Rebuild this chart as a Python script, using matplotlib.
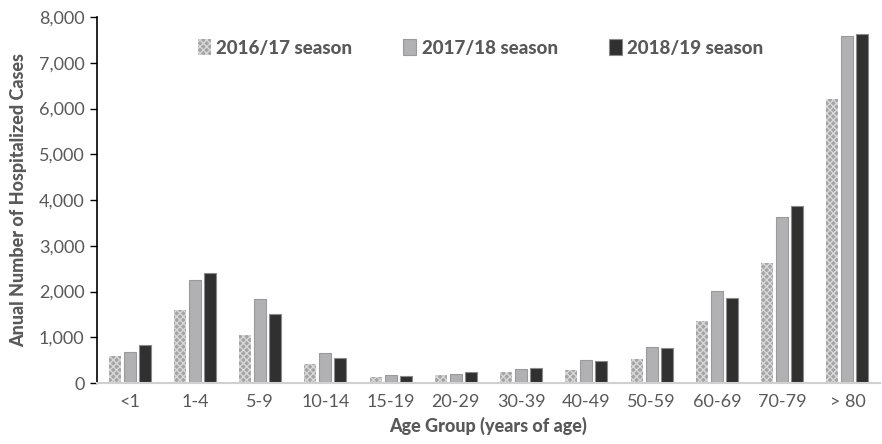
import matplotlib
matplotlib.use("Agg")
import matplotlib.pyplot as plt
import numpy as np

plt.rcParams['font.family'] = ['Lato', 'DejaVu Sans']
plt.rcParams['hatch.linewidth'] = 1.0

categories = ["<1", "1-4", "5-9", "10-14", "15-19", "20-29", "30-39", "40-49", "50-59", "60-69", "70-79", "> 80"]
s2016 = [590, 1600, 1045, 425, 140, 168, 250, 290, 528, 1350, 2632, 6200]
s2017 = [688, 2255, 1832, 645, 185, 198, 308, 505, 790, 2012, 3625, 7580]
s2018 = [825, 2415, 1508, 548, 148, 242, 322, 470, 755, 1860, 3860, 7620]
labels = ["2016/17 season", "2017/18 season", "2018/19 season"]
yticks = [0, 1000, 2000, 3000, 4000, 5000, 6000, 7000, 8000]

fig = plt.figure(figsize=(8.82, 4.44), dpi=100)
ax = fig.add_axes([97/882, 1-383/444, (880-97)/882, (383-17)/444])

x = np.arange(len(categories))
w = 0.185
step = 0.23
ax.bar(x - step, s2016, w, facecolor='#a4a4a4', edgecolor='#d8d8d8', hatch='xxxxx', linewidth=0.0, label=labels[0])
ax.bar(x, s2017, w, facecolor='#b1b1b4', edgecolor='#9a9a9a', linewidth=0.8, label=labels[1])
ax.bar(x + step, s2018, w, facecolor='#303030', edgecolor='#8a8a8a', linewidth=0.8, label=labels[2])

ax.set_xlim(-0.5, len(categories) - 0.5)
ax.set_ylim(0, 8000)
ax.set_yticks(yticks)
ax.set_yticklabels([f"{v:,}" for v in yticks])
ax.set_xticks(x)
ax.set_xticklabels(categories)
ax.tick_params(axis='y', colors='#595959', labelsize=13, length=5, width=1, direction='out', pad=4)
ax.tick_params(axis='y', color='black')
ax.tick_params(axis='x', colors='#595959', labelsize=13, length=0, pad=8)

for s in ['top', 'right']:
    ax.spines[s].set_visible(False)
ax.spines['left'].set_color('black')
ax.spines['left'].set_linewidth(1.2)
ax.spines['bottom'].set_color('#d0d0d0')
ax.spines['bottom'].set_linewidth(1.5)

ax.set_ylabel("Anual Number of Hospitalized Cases", fontsize=13, fontweight='black', color='#595959', labelpad=8)
ax.set_xlabel("Age Group (years of age)", fontsize=13, fontweight='black', color='#595959', labelpad=5)

leg = ax.legend(loc='upper center', bbox_to_anchor=(0.49, 0.985), ncol=3, frameon=False,
                prop={'size': 13.5, 'weight': 'black'},
                handlelength=0.7, handleheight=0.9, handletextpad=0.3, columnspacing=2.7)
for t in leg.get_texts():
    t.set_color('#595959')

fig.savefig("out.png", dpi=100)
